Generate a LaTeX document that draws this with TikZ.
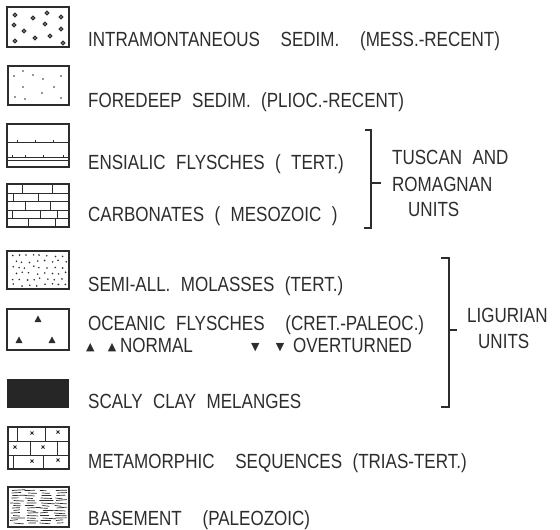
\documentclass[tikz,border=0pt]{standalone}
\usepackage{fontspec}
\setmainfont[FakeStretch=0.83,WordSpace=2.2]{Liberation Sans}
\newfontfamily\symfont{DejaVu Sans}
\usepackage{xcolor}
\usepackage{tikz}
\usetikzlibrary{positioning, calc}
\definecolor{inkgray}{RGB}{45, 45, 45}
\definecolor{clayblack}{RGB}{38, 38, 38}

\newcommand{\tri}[1]{\raisebox{1.5bp}{\symfont\fontsize{11bp}{11bp}\selectfont #1}}

\tikzset{
    legbox/.style={draw=inkgray, line width=1.3bp},
    legline/.style={draw=inkgray, line width=0.8bp},
    legtext/.style={anchor=base west, inner sep=0pt, text=inkgray,
        font=\fontsize{20.5bp}{23bp}\selectfont},
    unitbracket/.style={draw=inkgray, line width=1.8bp}
}

\begin{document}
\begin{tikzpicture}[x=1bp, y=-1bp]
    \useasboundingbox (0,0) rectangle (560,530);

    % Intramontaneous sediments
    \draw[legbox] (7,7) rectangle (69,47);
    \foreach \px/\py in {15/15,33/18,47/13,61/17,14/25,24/31,45/24,61/29,15/41,35/38,50/36,63/43}
        \draw[inkgray, line width=1.2bp] (\px,\py) circle (1.8bp);
    \node[legtext] (intra) at (88,47) {INTRAMONTANEOUS \ SEDIM. \ (MESS.-RECENT)};

    % Foredeep sediments
    \draw[legbox] (8,66) rectangle (69,105);
    \foreach \px/\py in {14/76,23/71,33/75,43/79,61/76,23/87,42/93,54/87,15/97,25/99,61/98}
        \fill[inkgray] (\px,\py) circle (0.8bp);
    \node[legtext] (foredeep) at (88,108) {FOREDEEP SEDIM. (PLIOC.-RECENT)};

    % Ensialic flysches
    \draw[legbox] (7,124) rectangle (69,167);
    \draw[legline] (7,142) -- (69,142);
    \draw[legline] (7,157) -- (69,157);
    \draw[legline] (7,160) -- (69,160);
    \foreach \px in {17,35,53}
        \draw[legline] (\px,142) -- (\px,140.5);
    \foreach \px in {12,25,43,63}
        \draw[legline] (\px,157) -- (\px,155.5);
    \node[legtext] (ensialic) at (88,170) {ENSIALIC FLYSCHES ( TERT.)};

    % Carbonates
    \draw[legbox] (7,184) rectangle (69,227);
    \foreach \ry in {193,201,210,218}
        \draw[legline] (7,\ry) -- (69,\ry);
    \foreach \px/\ya/\yb in {22/184/193,52/184/193,13/193/201,38/193/201,25/201/210,50/201/210,
                             12/210/218,40/210/218,57/210/218,28/218/227,55/218/227}
        \draw[legline] (\px,\ya) -- (\px,\yb);
    \node[legtext] (carbonates) at (88,222) {CARBONATES ( MESOZOIC )};

    % Semi-allochthonous molasses
    \draw[legbox] (7,251) rectangle (69,289);
    \pgfmathsetseed{11}
    \foreach \r in {0,...,5}
        \foreach \c in {0,...,7} {
            \pgfmathsetmacro\px{11.5+\c*7.2+3.2*mod(\r,2)+2*rand}
            \pgfmathsetmacro\py{255.5+\r*5.9+1.3*rand}
            \fill[inkgray] (\px,\py) circle (0.9bp);
        }
    \node[legtext] (molasses) at (88,291) {SEMI-ALL. MOLASSES (TERT.)};

    % Oceanic flysches
    \draw[legbox] (7,309) rectangle (69,350);
    \foreach \px/\py in {38/319,19/340,52/340}
        \fill[inkgray] (\px-3.5,\py+3) -- (\px+3.5,\py+3) -- (\px,\py-3.5) -- cycle;
    \node[legtext] (oceanic) at (88,330) {OCEANIC FLYSCHES \ (CRET.-PALEOC.)};
    \node[legtext] (normal) at (85.8,352) {\tri{▲}\hspace{13.5bp}\tri{▲}\hspace{3.7bp}NORMAL};
    \node[legtext] (overturned) at (250.8,352) {\tri{▼}\hspace{16.5bp}\tri{▼}\hspace{8.7bp}OVERTURNED};

    % Scaly clay melanges
    \fill[clayblack] (7,379) rectangle (69,408);
    \node[legtext] (scaly) at (88,408) {SCALY CLAY MELANGES};

    % Metamorphic sequences
    \draw[legbox] (8,427) rectangle (69,469);
    \draw[legline] (8,441) -- (69,441);
    \draw[legline] (8,455) -- (69,455);
    \foreach \px/\ya/\yb in {17/427/441,45/427/441,30/441/455,57/441/455,13/455/469,43/455/469}
        \draw[legline] (\px,\ya) -- (\px,\yb);
    \foreach \px/\py in {32/433,58/432,15/447,43/447,32/461,58/460}
        \draw[legline] (\px-1.5,\py-1.5) -- (\px+1.5,\py+1.5) (\px-1.5,\py+1.5) -- (\px+1.5,\py-1.5);
    \node[legtext] (metamorphic) at (88,468) {METAMORPHIC \ SEQUENCES (TRIAS-TERT.)};

    % Basement
    \draw[legbox] (8,487) rectangle (69,527);
    \pgfmathsetseed{5}
    \foreach \ry in {490.5,493,...,525}
        \foreach \k in {0,1,2,3} {
            \pgfmathsetmacro\xa{10+14.5*\k+4*rnd}
            \pgfmathsetmacro\xb{min(\xa+6+8*rnd,67)}
            \pgfmathsetmacro\yb{\ry+1.0*rand}
            \draw[inkgray, line width=0.7bp] (\xa,\ry) -- (\xb,\yb);
        }
    \node[legtext] (basement) at (88,525) {BASEMENT \ (PALEOZOIC)};

    % Tuscan and Romagnan units
    \draw[unitbracket] (365,130) -- (371,130) -- (371,228) -- (364,228);
    \draw[unitbracket] (371,183) -- (381,183);
    \node[legtext] (tuscan) at (392,165) {TUSCAN AND};
    \node[legtext] (romagnan) at (392,192) {ROMAGNAN};
    \node[legtext] (tuscanunits) at (408,217) {UNITS};

    % Ligurian units
    \draw[unitbracket] (441,258) -- (449,258) -- (449,407) -- (441,407);
    \draw[unitbracket] (449,330) -- (457,330);
    \node[legtext] (ligurian) at (467,322) {LIGURIAN};
    \node[legtext] (liguriaunits) at (478,348) {UNITS};
\end{tikzpicture}
\end{document}
